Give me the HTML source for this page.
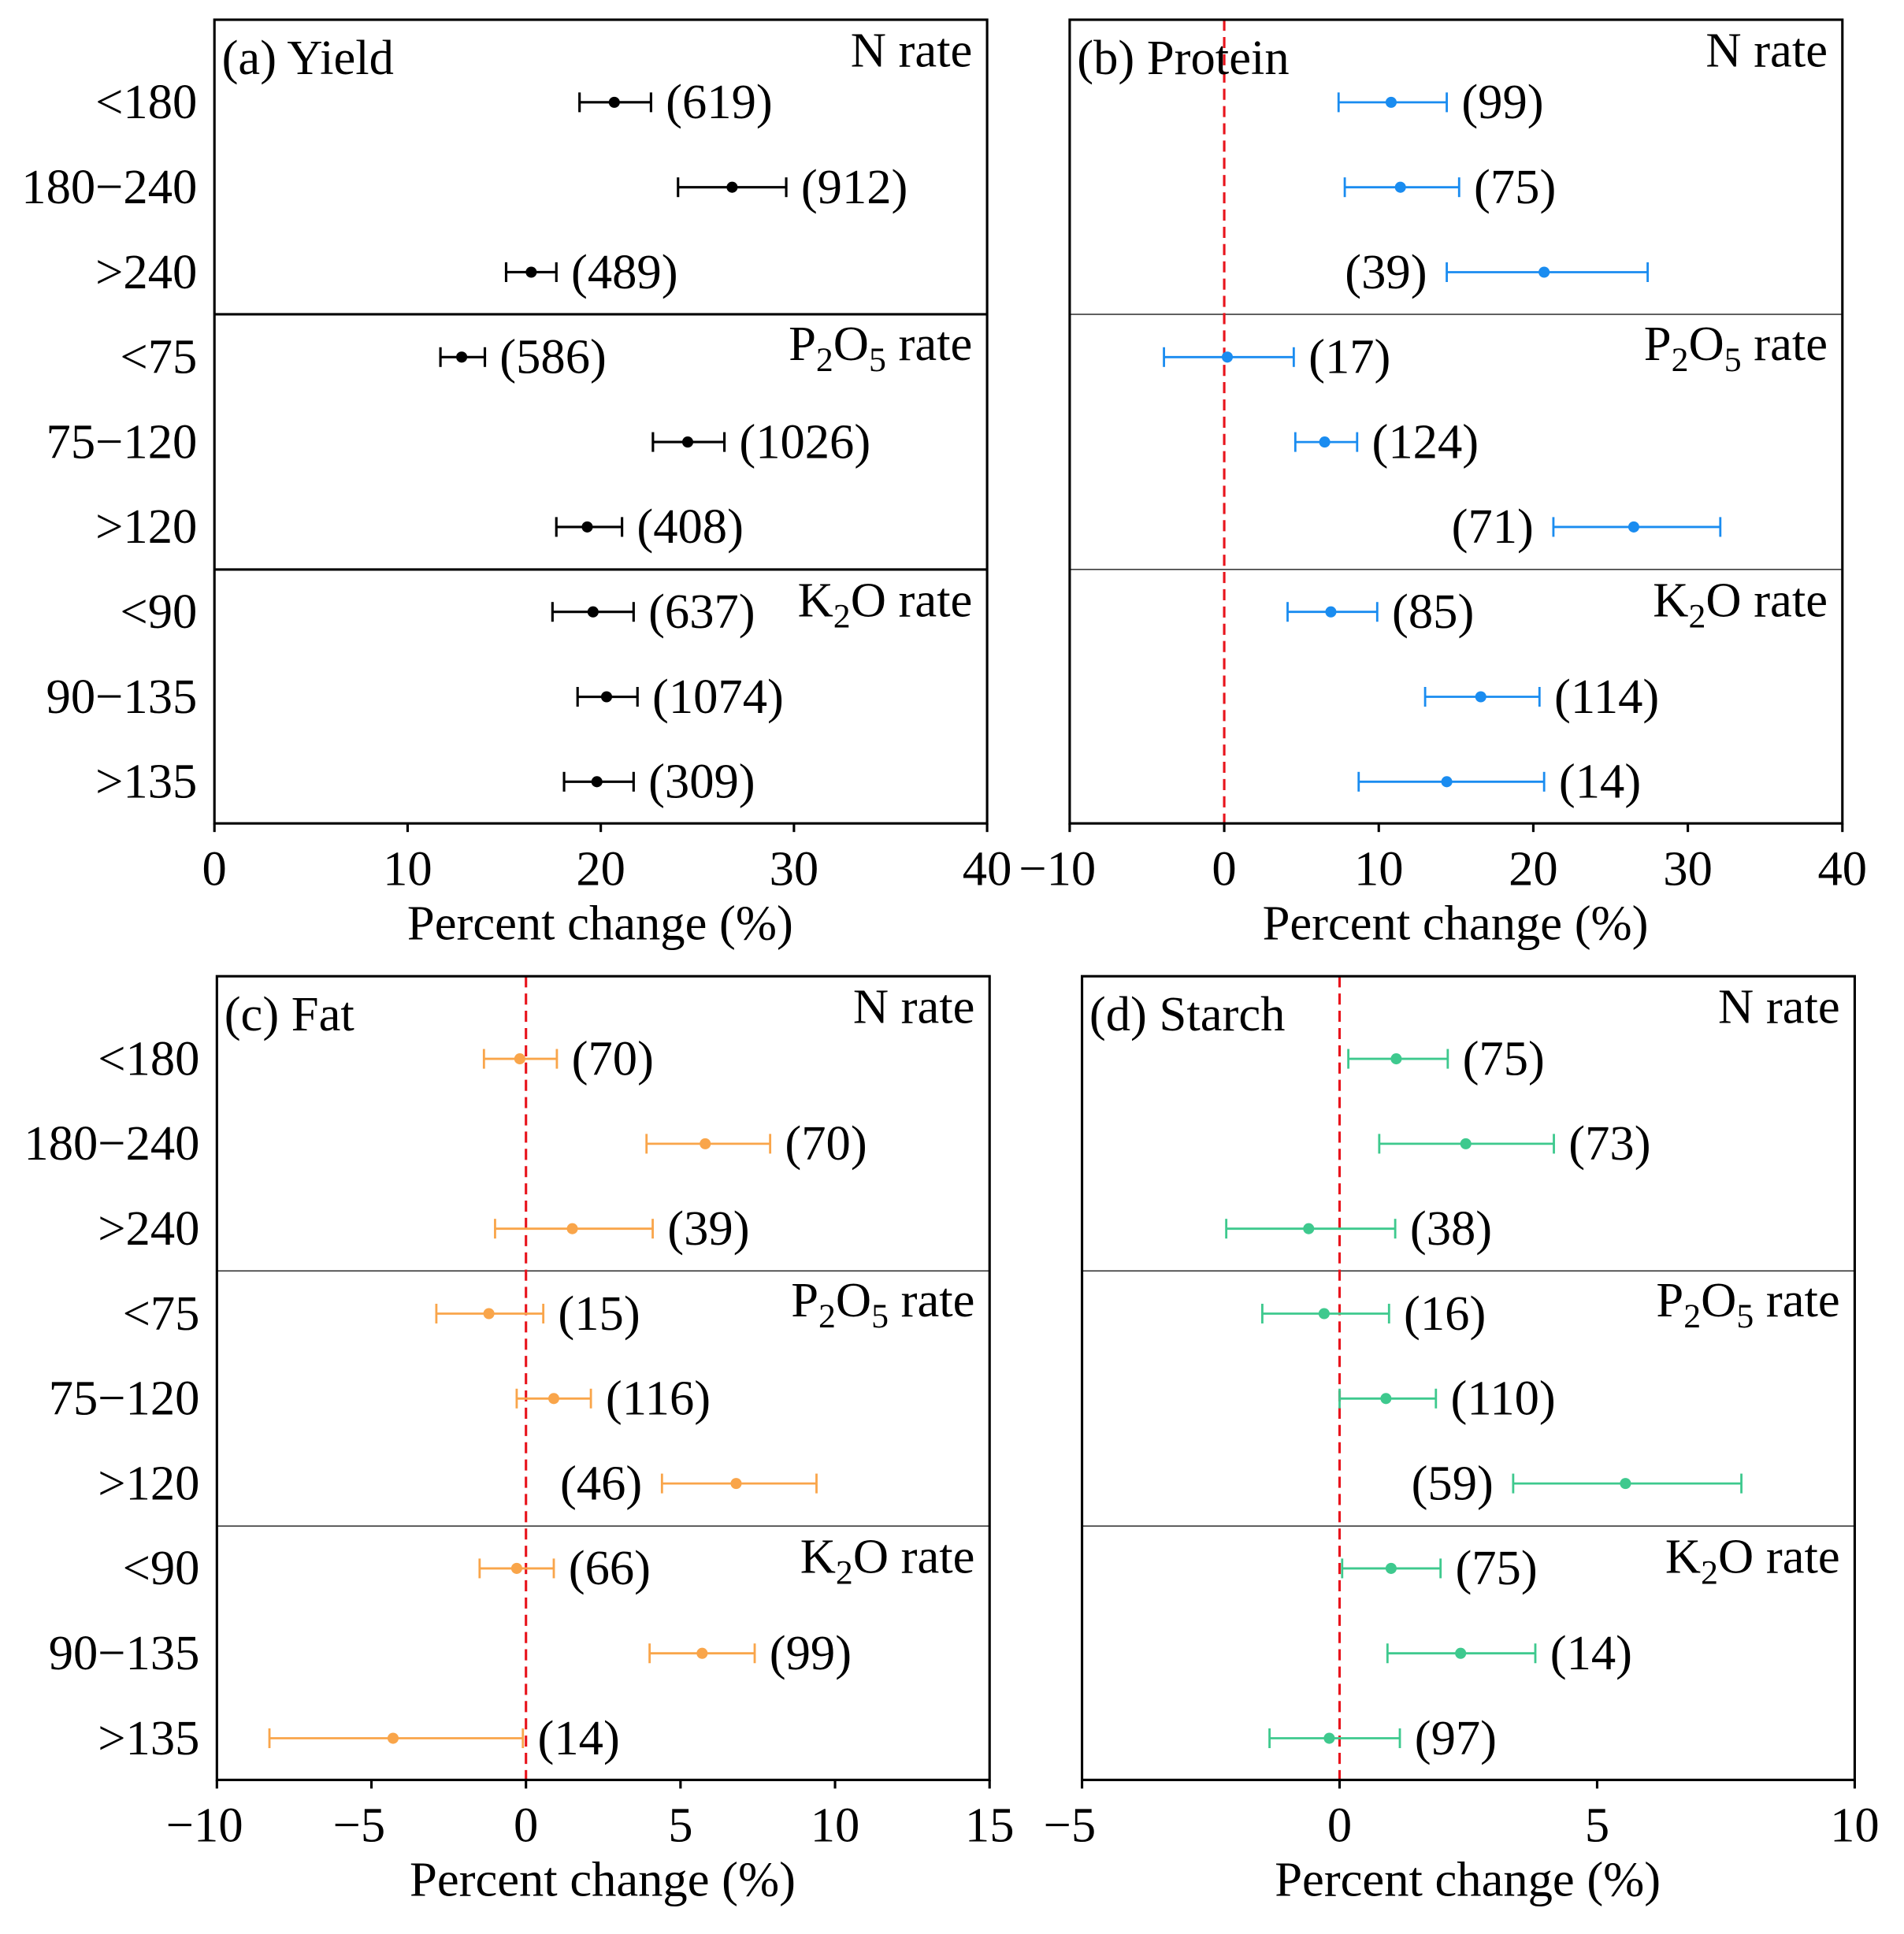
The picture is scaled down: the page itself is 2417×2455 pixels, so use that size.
<!DOCTYPE html>
<html><head><meta charset="utf-8">
<style>html,body{margin:0;padding:0;background:#fff;}svg{display:block;}</style>
</head><body>
<svg id="chart" xmlns="http://www.w3.org/2000/svg" width="2417" height="2455" viewBox="0 0 1545 1569" preserveAspectRatio="none" font-family="'Liberation Serif', serif"></svg>
<script>
const rowLabels = ["<180","180\u2212240",">240","<75","75\u2212120",">120","<90","90\u2212135",">135"];
const yieldMean = [20.7,26.8,16.4,12.8,24.5,19.3,19.6,20.3,19.8];
const yieldLo = [18.9,24.0,15.1,11.7,22.7,17.7,17.5,18.8,18.1];
const yieldHi = [22.6,29.6,17.7,14.0,26.4,21.1,21.7,21.9,21.7];
const yieldN = ["619","912","489","586","1026","408","637","1074","309"];
const protMean = [10.8,11.4,20.7,0.2,6.5,26.5,6.9,16.6,14.4];
const protLo = [7.4,7.8,14.4,-3.9,4.6,21.3,4.1,13.0,8.7];
const protHi = [14.4,15.2,27.4,4.5,8.6,32.1,9.9,20.4,20.7];
const protN = ["99","75","39","17","124","71","85","114","14"];
const protLeft = [0,0,1,0,0,1,0,0,0];
const fatMean = [-0.2,5.8,1.5,-1.2,0.9,6.8,-0.3,5.7,-4.3];
const fatLo = [-1.36,3.9,-1.0,-2.9,-0.3,4.4,-1.5,4.0,-8.3];
const fatHi = [1.0,7.9,4.1,0.56,2.1,9.4,0.9,7.4,-0.1];
const fatN = ["70","70","39","15","116","46","66","99","14"];
const fatLeft = [0,0,0,0,0,1,0,0,0];
const starchMean = [1.1,2.45,-0.6,-0.3,0.9,5.55,1.0,2.35,-0.2];
const starchLo = [0.17,0.77,-2.2,-1.5,0.0,3.37,0.05,0.93,-1.36];
const starchHi = [2.1,4.16,1.08,0.96,1.87,7.8,1.96,3.8,1.17];
const starchN = ["75","73","38","16","110","59","75","14","97"];
const starchLeft = [0,0,0,0,0,1,0,0,0];
const ticksA = [0,10,20,30,40];
const ticksB = [-10,0,10,20,30,40];
const ticksC = [-10,-5,0,5,10,15];
const ticksD = [-5,0,5,10];

const NS = "http://www.w3.org/2000/svg";
const svg = document.getElementById('chart');
function mk(tag, attrs, parent, txt){
  const e = document.createElementNS(NS, tag);
  for (const k in attrs) e.setAttribute(k, attrs[k]);
  if (txt !== undefined) e.textContent = txt;
  (parent||svg).appendChild(e);
  return e;
}
const FS = 40;
function panel(cfg){
  const g = mk('g', {});
  
  
  const L = cfg.left, R = cfg.left + 627, T = cfg.top, B = cfg.top + 652;
  const xs = v => L + (v - cfg.min) / (cfg.max - cfg.min) * 627;
  const rowY = i => T + 67 + i * 68.9;
  [T + 239, T + 446].forEach(y => {
    const s = mk('line', {x1:L, x2:R, y1:y, y2:y, stroke:'#000', 'stroke-width': cfg.thickSep ? 2 : 0.8}, g);
    
    
  });
  if (cfg.min < 0) {
    const z = mk('line', {x1:xs(0), x2:xs(0), y1:T, y2:B, stroke:'#e8141c', 'stroke-width':2, 'stroke-dasharray':'9,5'}, g);
    
    
  }
  const f = mk('rect', {x:L, y:T, width:627, height:652, fill:'none', stroke:'#000', 'stroke-width':2}, g);
  
  
  cfg.ticks.forEach(t => {
    const x = xs(t);
    const tl = mk('line', {x1:x, x2:x, y1:B, y2:B + 7, stroke:'#000', 'stroke-width':2}, g);
    
    
    const lab = t < 0 ? '\u2212' + Math.abs(t) : String(t);
    const tt = mk('text', {x: t < 0 ? x - 10 : x, y: B + 50, 'font-size': FS, 'text-anchor':'middle'}, g, lab);
    
    
  });
  const xt = mk('text', {x: L + 313, y: B + 94, 'font-size': FS, 'text-anchor':'middle'}, g, 'Percent change (%)');
  
  
  const pt = mk('text', {x: L + 6, y: T + 44, 'font-size': FS}, g, cfg.title);
  
  
  const gx = R - 12;
  const g1 = mk('text', {x: gx, y: T + 38, 'font-size': FS, 'text-anchor':'end'}, g, 'N rate');
  
  
  const g2 = mk('text', {x: gx, y: T + 276, 'font-size': FS, 'text-anchor':'end'}, g);
  
  
  g2.innerHTML = 'P<tspan font-size="28" dy="9">2</tspan><tspan dy="-9">O</tspan><tspan font-size="28" dy="9">5</tspan><tspan dy="-9"> rate</tspan>';
  const g3 = mk('text', {x: gx, y: T + 484, 'font-size': FS, 'text-anchor':'end'}, g);
  
  
  g3.innerHTML = 'K<tspan font-size="28" dy="9">2</tspan><tspan dy="-9">O rate</tspan>';
  cfg.mean.forEach((m, i) => {
    const y = rowY(i);
    if (cfg.showY) {
      const yl = mk('text', {x: L - 14, y: y + 13, 'font-size': FS, 'text-anchor':'end'}, g, rowLabels[i]);
      
      
    }
    const x1 = xs(cfg.lo[i]), x2 = xs(cfg.hi[i]), xm = xs(m);
    const eg = mk('g', {stroke: cfg.color, 'stroke-width': cfg.color === '#000' ? 2 : 1.8}, g);
    
    
    mk('line', {x1:x1, x2:x2, y1:y, y2:y}, eg);
    mk('line', {x1:x1, x2:x1, y1:y - 8, y2:y + 8}, eg);
    mk('line', {x1:x2, x2:x2, y1:y - 8, y2:y + 8}, eg);
    const pt2 = mk('circle', {cx:xm, cy:y, r:4.5, fill:cfg.color}, g);
    
    
    const left = cfg.left_ && cfg.left_[i];
    const nl = mk('text', {x: left ? x1 - 16 : x2 + 12, y: y + 13, 'font-size': FS, 'text-anchor': left ? 'end' : 'start'}, g, '(' + cfg.n[i] + ')');
    
    
  });
}
panel({name:'panel-a-yield', left:174, top:16, min:0, max:40, ticks:ticksA, title:'(a) Yield', mean:yieldMean, lo:yieldLo, hi:yieldHi, n:yieldN, color:'#000', showY:true, thickSep:true});
panel({name:'panel-b-protein', left:868, top:16, min:-10, max:40, ticks:ticksB, title:'(b) Protein', mean:protMean, lo:protLo, hi:protHi, n:protN, left_:protLeft, color:'#1a8cf0', showY:false});
panel({name:'panel-c-fat', left:176, top:792, min:-10, max:15, ticks:ticksC, title:'(c) Fat', mean:fatMean, lo:fatLo, hi:fatHi, n:fatN, left_:fatLeft, color:'#f9a54a', showY:true});
panel({name:'panel-d-starch', left:878, top:792, min:-5, max:10, ticks:ticksD, title:'(d) Starch', mean:starchMean, lo:starchLo, hi:starchHi, n:starchN, left_:starchLeft, color:'#3ec98e', showY:false});
</script>
</body></html>
